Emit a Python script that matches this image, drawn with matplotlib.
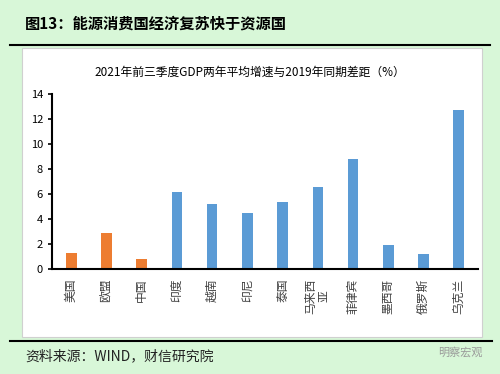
import matplotlib.pyplot as plt
from matplotlib.patches import Rectangle
from matplotlib.lines import Line2D

plt.rcParams['font.family'] = ['Noto Sans CJK SC', 'DejaVu Sans']

# 数据
countries = ['美国', '欧盟', '中国', '印度', '越南', '印尼', '泰国',
             '马来西\n亚', '菲律宾', '墨西哥', '俄罗斯', '乌克兰']
values = [1.3, 2.9, 0.8, 6.2, 5.2, 4.5, 5.4, 6.6, 8.8, 1.9, 1.2, 12.7]
colors = ['#ED7D31'] * 3 + ['#5B9BD5'] * 9
yticks = [0, 2, 4, 6, 8, 10, 12, 14]

fig = plt.figure(figsize=(5, 3.74), dpi=100)
fig.patch.set_facecolor('#d8f7d8')

# 白色图表区域
fig.add_artist(Rectangle((22 / 500, 1 - 337 / 374), 460 / 500, 289 / 374,
                         transform=fig.transFigure, facecolor='white',
                         edgecolor='#d0d0d0', linewidth=0.8, zorder=-5))

# 上下横线
fig.add_artist(Line2D([10 / 500, 490 / 500], [1 - 45 / 374] * 2, color='black', lw=1.5))
fig.add_artist(Line2D([10 / 500, 492 / 500], [1 - 341 / 374] * 2, color='black', lw=1.5))

fig.text(25 / 500, 1 - 24 / 374, '图13：能源消费国经济复苏快于资源国', fontsize=11,
         fontweight='bold', va='center', ha='left')
fig.text(25 / 500, 1 - 356 / 374, '资料来源：WIND，财信研究院', fontsize=10,
         style='italic', va='center', ha='left', color='#222222')
fig.text(483 / 500, 1 - 352 / 374, '明察宏观', fontsize=8, color='#999999',
         va='center', ha='right')
fig.text(250 / 500, 1 - 72 / 374, '2021年前三季度GDP两年平均增速与2019年同期差距（%）',
         fontsize=8.5, va='center', ha='center')

ax = fig.add_axes([52 / 500, 1 - 269 / 374, 426 / 500, 175 / 374])
ax.set_zorder(5)
ax.set_facecolor('none')
x = range(len(countries))
ax.bar(x, values, width=0.3, color=colors)
ax.set_ylim(0, 14)
ax.set_xlim(-0.55, len(countries) - 0.45)
ax.set_yticks(yticks)
ax.tick_params(axis='y', labelsize=8, length=3, width=1.2, direction='out', color='black')
ax.set_xticks(list(x))
ax.set_xticklabels(countries, rotation=90, fontsize=8.5, color='#404040',
                   multialignment='center', linespacing=1.0)
ax.tick_params(axis='x', length=0, pad=7)
for s in ['top', 'right']:
    ax.spines[s].set_visible(False)
ax.spines['left'].set_linewidth(1.5)
ax.spines['bottom'].set_linewidth(1.5)

fig.savefig('out.png', dpi=100, facecolor=fig.get_facecolor())
